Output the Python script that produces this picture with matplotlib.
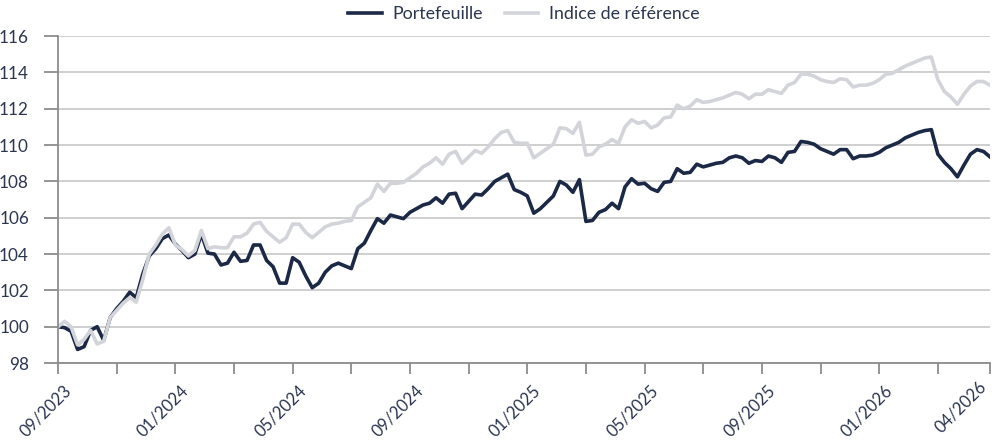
import numpy as np
import matplotlib.pyplot as plt
import matplotlib.transforms as mtransforms

# weekly values
portefeuille = [
    100.0, 99.95, 99.75, 98.75, 98.9, 99.8, 100.0, 99.25, 100.5, 101.0,
    101.4, 101.9, 101.6, 102.9, 103.9, 104.3, 104.85, 105.05, 104.55, 104.2,
    103.8, 104.0, 105.1, 104.05, 104.0, 103.4, 103.5, 104.1, 103.6, 103.65,
    104.5, 104.5, 103.65, 103.3, 102.4, 102.4, 103.8, 103.55, 102.8, 102.15,
    102.4, 103.0, 103.35, 103.5, 103.35, 103.2, 104.3, 104.6, 105.3, 105.95,
    105.7, 106.15, 106.05, 105.95, 106.3, 106.5, 106.7, 106.8, 107.1, 106.8,
    107.3, 107.35, 106.5, 106.9, 107.3, 107.25, 107.6, 108.0, 108.2, 108.4,
    107.55, 107.4, 107.2, 106.25, 106.5, 106.85, 107.2, 108.0, 107.8, 107.4,
    108.1, 105.8, 105.85, 106.3, 106.45, 106.8, 106.5, 107.7, 108.15, 107.85,
    107.9, 107.6, 107.45, 107.95, 108.0, 108.7, 108.45, 108.5, 108.95, 108.8,
    108.9, 109.0, 109.05, 109.3, 109.4, 109.3, 109.0, 109.15, 109.1, 109.4,
    109.3, 109.05, 109.6, 109.65, 110.2, 110.15, 110.05, 109.8, 109.65, 109.5,
    109.75, 109.75, 109.25, 109.4, 109.4, 109.45, 109.6, 109.85, 110.0, 110.15,
    110.4, 110.55, 110.7, 110.8, 110.85, 109.5, 109.05, 108.7, 108.25, 108.9,
    109.5, 109.75, 109.65, 109.35,
]
indice = [
    100.0, 100.3, 100.0, 99.0, 99.3, 99.8, 99.05, 99.2, 100.5, 100.9,
    101.3, 101.6, 101.35, 102.6, 104.0, 104.5, 105.1, 105.45, 104.5, 104.25,
    103.9, 104.2, 105.3, 104.3, 104.4, 104.35, 104.35, 104.95, 104.95, 105.15,
    105.65, 105.75, 105.25, 104.95, 104.65, 104.9, 105.65, 105.65, 105.2, 104.9,
    105.2, 105.5, 105.65, 105.7, 105.8, 105.85, 106.6, 106.85, 107.1, 107.85,
    107.45, 107.9, 107.9, 107.95, 108.2, 108.45, 108.8, 109.0, 109.3, 108.95,
    109.5, 109.65, 109.0, 109.35, 109.7, 109.55, 109.9, 110.35, 110.7, 110.8,
    110.15, 110.1, 110.1, 109.3, 109.55, 109.8, 110.05, 110.95, 110.9, 110.65,
    111.25, 109.45, 109.5, 109.9, 110.05, 110.3, 110.1, 111.0, 111.4, 111.2,
    111.3, 110.95, 111.1, 111.5, 111.55, 112.2, 112.0, 112.15, 112.5, 112.35,
    112.4, 112.5, 112.6, 112.75, 112.9, 112.8, 112.55, 112.8, 112.8, 113.05,
    112.95, 112.85, 113.3, 113.45, 113.9, 113.9, 113.8, 113.6, 113.5, 113.45,
    113.65, 113.6, 113.2, 113.3, 113.3, 113.4, 113.6, 113.9, 113.95, 114.15,
    114.35, 114.5, 114.65, 114.8, 114.85, 113.6, 112.95, 112.65, 112.25, 112.8,
    113.25, 113.5, 113.5, 113.3,
]
tick_pos = [0, 9, 18, 27, 36, 45, 54, 63, 72, 81, 90, 99, 108, 117, 126, 135, 143]
tick_labels = ['09/2023', '', '01/2024', '', '05/2024', '', '09/2024', '', '01/2025', '',
               '05/2025', '', '09/2025', '', '01/2026', '', '04/2026']

navy = '#1b2846'
grey = '#d2d4da'
text_col = '#2b3550'
axis_col = '#8c8c8c'

plt.rcParams['font.family'] = ['Lato', 'DejaVu Sans']

x = np.arange(len(portefeuille))

fig = plt.figure(figsize=(9.92, 4.46), dpi=100)
ax = fig.add_axes([0.0585, 0.186, 0.9395, 0.733])

ax.plot(x, portefeuille, color=navy, lw=2.6, label='Portefeuille')
ax.plot(x, indice, color=grey, lw=2.6, label='Indice de référence')

ax.set_xlim(0, len(portefeuille) - 1)
ax.set_ylim(98, 116)
ax.set_yticks(np.arange(98, 117, 2))
ax.set_xticks(tick_pos)
ax.set_xticklabels(tick_labels, rotation=45, ha='right', va='top', rotation_mode='anchor')

ax.grid(axis='y', color='#cccccc', lw=1.3)
ax.set_axisbelow(True)
for s in ['top', 'right']:
    ax.spines[s].set_visible(False)
for s in ['left', 'bottom']:
    ax.spines[s].set_color(axis_col)
    ax.spines[s].set_linewidth(1.3)

ax.tick_params(axis='x', colors=axis_col, length=8, width=1.3, labelcolor=text_col,
               labelsize=12, pad=6)
ax.tick_params(axis='y', colors=axis_col, length=10, width=1.3, labelcolor=text_col,
               labelsize=12.3, pad=11)

# shift the x labels a bit right, the last one up and left so it fits
for i, lab in enumerate(ax.get_xticklabels()):
    if i == len(tick_pos) - 1:
        off = mtransforms.ScaledTranslation(-12 / 100, 4 / 100, fig.dpi_scale_trans)
    else:
        off = mtransforms.ScaledTranslation(5 / 100, 0, fig.dpi_scale_trans)
    lab.set_transform(lab.get_transform() + off)

ax.legend(loc='upper center', bbox_to_anchor=(0.5, 1.14), ncol=2, frameon=False,
          fontsize=12.8, handlelength=1.9, handletextpad=0.6, columnspacing=1.2,
          labelcolor=text_col)

fig.savefig('out.png', dpi=100)
